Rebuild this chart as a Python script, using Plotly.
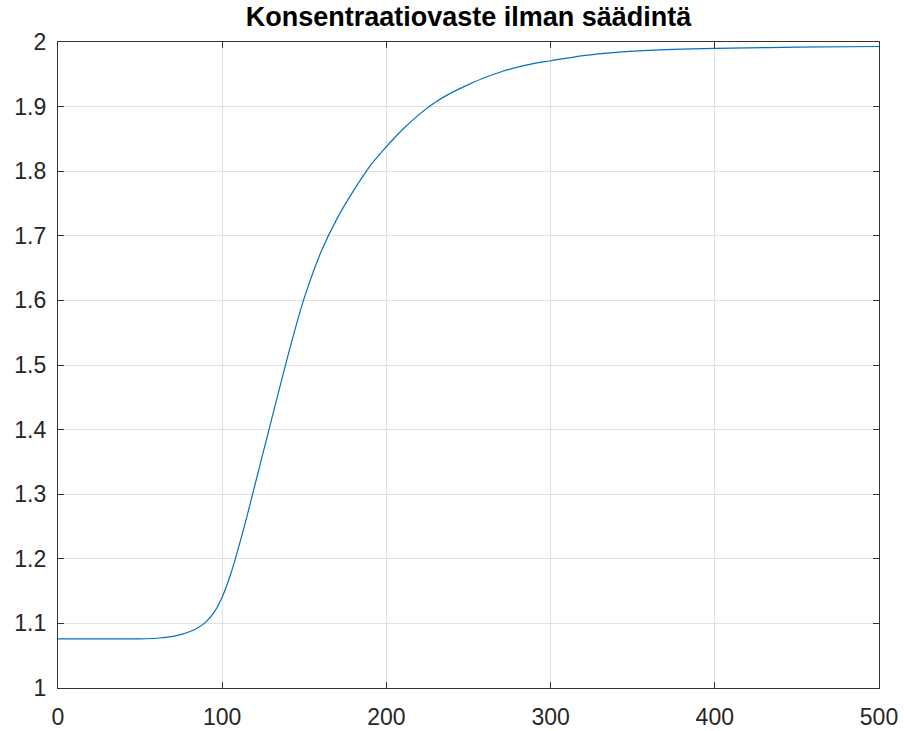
import plotly.graph_objects as go

# Concentration response (no control) sampled over time
t = [0, 10, 20, 30, 40, 50, 60, 70, 75, 80, 85, 90, 95, 100, 105, 110, 115,
     120, 125, 130, 135, 140, 145, 150, 160, 170, 180, 190, 200, 210, 220,
     230, 240, 250, 260, 270, 280, 290, 300, 320, 340, 360, 380, 400, 450, 500]
conc = [1.076, 1.076, 1.076, 1.076, 1.076, 1.076, 1.077, 1.080, 1.083, 1.087,
        1.093, 1.102, 1.117, 1.141, 1.175, 1.218, 1.265, 1.315, 1.365, 1.415,
        1.465, 1.514, 1.561, 1.604, 1.674, 1.727, 1.770, 1.808, 1.838, 1.865,
        1.888, 1.907, 1.922, 1.934, 1.945, 1.954, 1.961, 1.967, 1.971, 1.979,
        1.984, 1.987, 1.989, 1.990, 1.992, 1.993]

x_ticks = [0, 100, 200, 300, 400, 500]
y_ticks = [1, 1.1, 1.2, 1.3, 1.4, 1.5, 1.6, 1.7, 1.8, 1.9, 2]
y_labels = ["1", "1.1", "1.2", "1.3", "1.4", "1.5", "1.6", "1.7", "1.8", "1.9", "2"]

FONT = "Liberation Sans, Arial, sans-serif"

fig = go.Figure()
fig.add_trace(go.Scatter(
    x=t, y=conc, mode="lines",
    line=dict(color="#0072BD", width=1.2, shape="spline", smoothing=1.0),
    showlegend=False, hoverinfo="skip",
))

axis_common = dict(
    showline=True, linecolor="#333333", linewidth=1.3, mirror="ticks",
    ticks="inside", ticklen=6, tickcolor="#333333", tickwidth=1,
    showgrid=True, gridcolor="#e0e0e0", gridwidth=1,
    zeroline=False, automargin=False,
    tickfont=dict(family=FONT, size=23, color="#262626"),
)

fig.update_layout(
    width=904, height=731,
    margin=dict(l=58, r=25, t=42, b=43),
    paper_bgcolor="white", plot_bgcolor="white",
    title=dict(
        text="<b>Konsentraatiovaste ilman säädintä</b>",
        x=0.5, xanchor="center", xref="paper", y=0.978, yanchor="middle",
        font=dict(family=FONT, size=27, color="#000000"),
    ),
    xaxis=dict(range=[0, 500], tickvals=x_ticks, ticktext=[str(v) for v in x_ticks],
               ticklabelstandoff=8, **axis_common),
    yaxis=dict(range=[1, 2], tickvals=y_ticks, ticktext=y_labels,
               ticklabelstandoff=6, **axis_common),
)

fig.write_html("out.html")
